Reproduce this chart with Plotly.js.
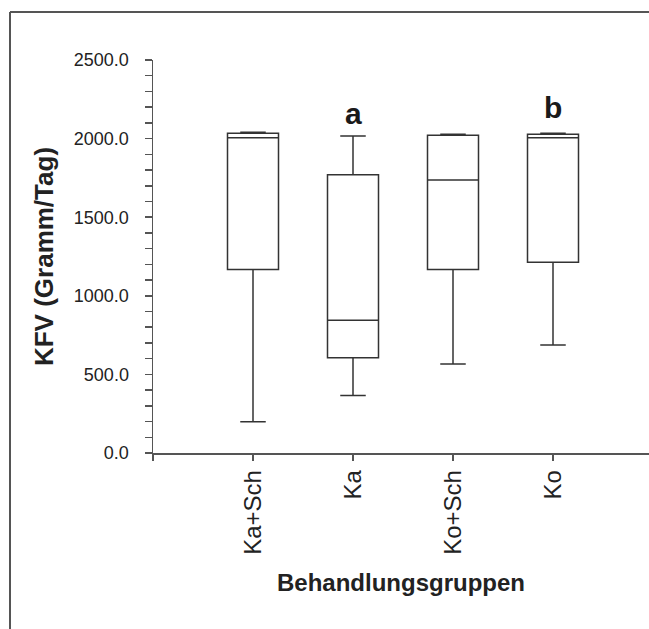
<!DOCTYPE html>
<html>
<head>
<meta charset="utf-8">
<script src="https://cdn.plot.ly/plotly-3.0.1.min.js"></script>
<style>html,body{margin:0;padding:0;background:#fff;overflow:hidden;}#chart{width:649px;height:629px;}</style>
</head>
<body>
<div id="chart"></div>
<script>
// Data
const categories = ["Ka+Sch", "Ka", "Ko+Sch", "Ko"];
const lowerFence = [199, 365, 566, 687];
const q1Values = [1168, 606, 1168, 1213];
const medianValues = [2006, 844, 1737, 2006];
const q3Values = [2034, 1770, 2021, 2027];
const upperFence = [2040, 2016, 2027, 2034];
const sigLetters = ["", "a", "", "b"];
const sigLetterY = [0, 2160, 0, 2200];
const yTickVals = [0, 500, 1000, 1500, 2000, 2500];

const xPos = categories.map((c, i) => i + 1);

const trace = {
  type: "box",
  x: xPos,
  q1: q1Values,
  median: medianValues,
  q3: q3Values,
  lowerfence: lowerFence,
  upperfence: upperFence,
  width: 0.51,
  whiskerwidth: 0.5,
  fillcolor: "#ffffff",
  line: {color: "#333333", width: 1.5},
  boxpoints: false,
  hoverinfo: "skip",
  showlegend: false
};

const annotations = [];
sigLetters.forEach((s, i) => {
  if (s) annotations.push({
    x: xPos[i], y: sigLetterY[i], xref: "x", yref: "y",
    text: s, showarrow: false, xanchor: "center", yanchor: "middle",
    font: {family: "Liberation Sans, Arial, sans-serif", size: 30, color: "#1a1a1a", weight: "bold"}
  });
});

const frameX = (10 - 153) / 496;
const frameY = (453 - 12) / 393;

const layout = {
  width: 649, height: 629,
  margin: {l: 153, r: 0, t: 60, b: 176, pad: 0},
  paper_bgcolor: "#ffffff", plot_bgcolor: "#ffffff",
  font: {family: "Liberation Sans, Arial, sans-serif", color: "#222222"},
  showlegend: false,
  xaxis: {
    range: [0, 4.96],
    tickmode: "array",
    tickvals: [0].concat(xPos),
    ticktext: [""].concat(categories),
    tickangle: -90,
    ticks: "outside", ticklen: 6, tickwidth: 1.5, tickcolor: "#555555",
    showline: true, linecolor: "#555555", linewidth: 1.5,
    showgrid: false, zeroline: false,
    tickfont: {size: 24, color: "#222222"},
    title: {text: "<b>Behandlungsgruppen</b>", font: {size: 24, color: "#222222"}, standoff: 20},
    automargin: false, fixedrange: true
  },
  yaxis: {
    range: [0, 2500],
    tickmode: "array",
    tickvals: yTickVals,
    ticktext: yTickVals.map(v => v.toFixed(1)),
    ticks: "outside", ticklen: 7, tickwidth: 1.5, tickcolor: "#555555",
    minor: {dtick: 100, ticks: "outside", ticklen: 7, tickwidth: 1.5, tickcolor: "#555555", showgrid: false},
    showline: true, linecolor: "#555555", linewidth: 1.5,
    showgrid: false, zeroline: false,
    tickfont: {size: 18, color: "#222222"},
    ticklabelstandoff: 12,
    title: {text: "<b>KFV (Gramm/Tag)</b>", font: {size: 26, color: "#222222"}, standoff: 12},
    automargin: false, fixedrange: true
  },
  annotations: annotations,
  shapes: [
    {type: "line", xref: "paper", yref: "paper", x0: frameX, x1: frameX, y0: -2, y1: frameY,
     line: {color: "#555555", width: 2}, layer: "below"},
    {type: "line", xref: "paper", yref: "paper", x0: frameX, x1: 2, y0: frameY, y1: frameY,
     line: {color: "#555555", width: 2}, layer: "below"}
  ]
};

Plotly.newPlot("chart", [trace], layout, {displayModeBar: false, staticPlot: true});
</script>
</body>
</html>
